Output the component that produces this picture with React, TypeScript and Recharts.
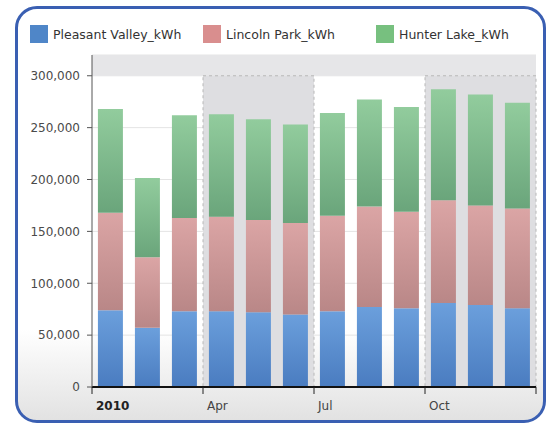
import React from "react";
import { BarChart, Bar, XAxis, YAxis, CartesianGrid, ReferenceArea } from "recharts";

const months = ["Jan", "Feb", "Mar", "Apr", "May", "Jun", "Jul", "Aug", "Sep", "Oct", "Nov", "Dec"];
const pleasantValley = [74000, 57000, 73000, 73000, 72000, 70000, 73000, 77000, 76000, 81000, 79000, 76000];
const lincolnPark = [94000, 68000, 90000, 91000, 89000, 88000, 92000, 97000, 93000, 99000, 96000, 96000];
const hunterLake = [100000, 76500, 99000, 99000, 97000, 95000, 99000, 103000, 101000, 107000, 107000, 102000];

const yTicks = [0, 50000, 100000, 150000, 200000, 250000, 300000];
const xTicks = ["Jan", "Apr", "Jul", "Oct", "Dec"];
const xTickLabels = ["2010", "Apr", "Jul", "Oct", ""];
const shadedQuarters = [["Apr", "Jun"], ["Oct", "Dec"]];

const series = [
  { key: "Pleasant Valley_kWh", values: pleasantValley, swatch: "#4f86c8", top: "#6b9fdc", bottom: "#4a7cc0" },
  { key: "Lincoln Park_kWh", values: lincolnPark, swatch: "#d98e8e", top: "#dba5a5", bottom: "#b98787" },
  { key: "Hunter Lake_kWh", values: hunterLake, swatch: "#77c07f", top: "#92cc9d", bottom: "#6aa57b" },
];

const data = months.map((m, i) => {
  const row: Record<string, string | number> = { month: m };
  series.forEach((s) => (row[s.key] = s.values[i]));
  return row;
});

const font = "'DejaVu Sans', sans-serif";

function MonthTick(props: any) {
  const { x, y, payload } = props;
  const half = payload.offset ?? 0;
  const idx = xTicks.indexOf(payload.value);
  const isEnd = idx === xTicks.length - 1;
  const tx = isEnd ? x + half : x - half;
  return (
    <g>
      <line x1={tx} y1={y} x2={tx} y2={y + 7} stroke="#222" strokeWidth={1} />
      <text
        x={tx + 4}
        y={y + 23}
        textAnchor="start"
        fontFamily={font}
        fontSize={12}
        fontWeight={idx === 0 ? "bold" : "normal"}
        fill={idx === 0 ? "#222" : "#444"}
      >
        {xTickLabels[idx]}
      </text>
    </g>
  );
}

export default function App() {
  return (
    <div style={{ position: "absolute", left: 0, top: 0, width: 550, height: 425, overflow: "hidden", background: "#fff" }}>
      <div
        style={{
          position: "absolute",
          boxSizing: "border-box",
          left: 15,
          top: 6,
          width: 531,
          height: 417,
          border: "3px solid #3a5fb2",
          borderRadius: 22,
          background: "linear-gradient(180deg, #ffffff 0%, #ffffff 78%, #e2e2e2 100%)",
        }}
      />
      <div style={{ position: "absolute", left: 30, top: 25, display: "flex", fontFamily: font, fontSize: 12.5, color: "#333" }}>
        {series.map((s) => (
          <div key={s.key} style={{ width: 173, display: "flex", alignItems: "center" }}>
            <span style={{ width: 18, height: 18, background: s.swatch, display: "inline-block", marginRight: 5 }} />
            <span>{s.key}</span>
          </div>
        ))}
      </div>
      <div style={{ position: "absolute", left: 0, top: 0 }}>
        <BarChart
          width={550}
          height={425}
          data={data}
          margin={{ top: 55, right: 14, left: 0, bottom: 8 }}
          barCategoryGap="16%"
        >
          <defs>
            {series.map((s, i) => (
              <linearGradient key={s.key} id={`grad${i}`} x1="0" y1="0" x2="0" y2="1">
                <stop offset="0%" stopColor={s.top} />
                <stop offset="100%" stopColor={s.bottom} />
              </linearGradient>
            ))}
          </defs>
          <ReferenceArea y1={300000} y2={320000} fill="#e6e6e8" fillOpacity={1} stroke="none" ifOverflow="visible" />
          {shadedQuarters.map(([a, b]) => (
            <ReferenceArea
              key={a}
              x1={a}
              x2={b}
              y1={0}
              y2={300000}
              fill="#dedee1"
              fillOpacity={1}
              stroke="#b8b8b8"
              strokeDasharray="3 3"
            />
          ))}
          <CartesianGrid vertical={false} stroke="#e4e4e4" />
          <XAxis
            dataKey="month"
            ticks={xTicks}
            interval={0}
            height={30}
            tickLine={false}
            tickSize={0}
            tickMargin={0}
            axisLine={{ stroke: "#111", strokeWidth: 2 }}
            tick={<MonthTick />}
          />
          <YAxis
            width={92}
            domain={[0, 320000]}
            ticks={yTicks}
            allowDataOverflow
            tickSize={5}
            tickMargin={7}
            tickFormatter={(v: number) => v.toLocaleString("en-US")}
            tick={{ fill: "#4a4a4a", fontSize: 12, fontFamily: font }}
            axisLine={{ stroke: "#555" }}
            tickLine={{ stroke: "#555" }}
          />
          {series.map((s, i) => (
            <Bar key={s.key} dataKey={s.key} stackId="a" fill={`url(#grad${i})`} isAnimationActive={false} />
          ))}
        </BarChart>
      </div>
    </div>
  );
}
